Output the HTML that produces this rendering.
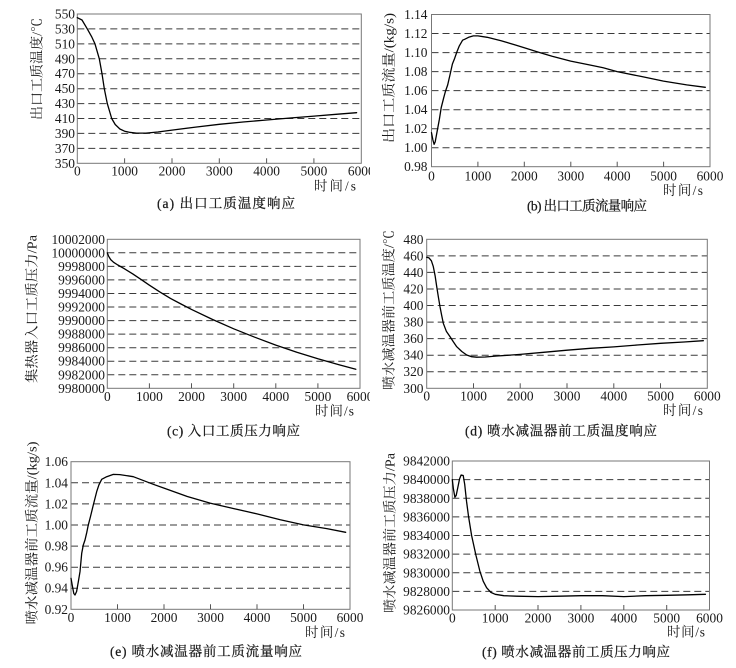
<!DOCTYPE html>
<html><head><meta charset="utf-8">
<style>
html,body{margin:0;padding:0;background:#fff;}
svg{display:block;}
text{font-family:"Liberation Serif","Noto Serif CJK SC",serif;fill:#1a1a1a;}
.t{font-size:13.4px;dominant-baseline:central;}
.yl{text-anchor:end;}
.xl{text-anchor:middle;}
.ti{font-size:13.5px;dominant-baseline:central;text-anchor:middle;}
.cap{font-size:13.5px;dominant-baseline:central;stroke:#1a1a1a;stroke-width:0.25;}
.g{stroke:#3a3a3a;stroke-width:1;stroke-dasharray:7,4;fill:none;}
.b{stroke:#777;stroke-width:1;fill:none;}
.k{stroke:#555;stroke-width:1;}
.c{stroke:#000;stroke-width:1.3;fill:none;stroke-linejoin:round;stroke-linecap:round;}
</style></head>
<body>
<svg width="736" height="668" viewBox="0 0 736 668" xmlns="http://www.w3.org/2000/svg">
<defs>
<clipPath id="lc"><rect x="0" y="0" width="370" height="668"/></clipPath>
</defs>

<!-- ================= Panel a ================= -->
<g clip-path="url(#lc)">
<g>
<line class="g" x1="77.3" y1="28.9" x2="361.3" y2="28.9"/>
<line class="g" x1="77.3" y1="43.9" x2="361.3" y2="43.9"/>
<line class="g" x1="77.3" y1="58.8" x2="361.3" y2="58.8"/>
<line class="g" x1="77.3" y1="73.7" x2="361.3" y2="73.7"/>
<line class="g" x1="77.3" y1="88.7" x2="361.3" y2="88.7"/>
<line class="g" x1="77.3" y1="103.6" x2="361.3" y2="103.6"/>
<line class="g" x1="77.3" y1="118.5" x2="361.3" y2="118.5"/>
<line class="g" x1="77.3" y1="133.4" x2="361.3" y2="133.4"/>
<line class="g" x1="77.3" y1="148.4" x2="361.3" y2="148.4"/>
<rect class="b" x="77.3" y="14" width="284" height="149.3"/>
<line class="k" x1="124.6" y1="163.3" x2="124.6" y2="158.3"/>
<line class="k" x1="172" y1="163.3" x2="172" y2="158.3"/>
<line class="k" x1="219.3" y1="163.3" x2="219.3" y2="158.3"/>
<line class="k" x1="266.6" y1="163.3" x2="266.6" y2="158.3"/>
<line class="k" x1="313.9" y1="163.3" x2="313.9" y2="158.3"/>
<polyline class="c" points="77.3,17.7 82,20 87.3,28.9 91.5,36.4 95,43.9 99.3,58.8 102,73.7 104.3,88.7 107.3,103.6 111.7,118.5 115.2,124.5 119.9,129 124.6,131.2 129.4,132.3 136.5,133.1 145.9,133.1 157.8,132 172,130.1 195.6,127.1 219.3,124.3 243,122 266.6,120 290.3,118 314,116.1 337.6,114.2 356.6,112.7"/>
<text class="t yl" x="75" y="14">550</text>
<text class="t yl" x="75" y="28.9">530</text>
<text class="t yl" x="75" y="43.9">510</text>
<text class="t yl" x="75" y="58.8">490</text>
<text class="t yl" x="75" y="73.7">470</text>
<text class="t yl" x="75" y="88.7">450</text>
<text class="t yl" x="75" y="103.6">430</text>
<text class="t yl" x="75" y="118.5">410</text>
<text class="t yl" x="75" y="133.4">390</text>
<text class="t yl" x="75" y="148.4">370</text>
<text class="t yl" x="75" y="163.3">350</text>
<text class="t xl" x="77.3" y="171">0</text>
<text class="t xl" x="124.6" y="171">1000</text>
<text class="t xl" x="172" y="171">2000</text>
<text class="t xl" x="219.3" y="171">3000</text>
<text class="t xl" x="266.6" y="171">4000</text>
<text class="t xl" x="313.9" y="171">5000</text>
<text class="t xl" x="361.3" y="171">6000</text>
<text class="ti" transform="translate(37,69) rotate(-90)" textLength="102" lengthAdjust="spacingAndGlyphs">出口工质温度/℃</text>
<text class="t" x="314" y="186" textLength="42" lengthAdjust="spacing">时间/s</text>
<text class="cap" x="157" y="203.3" textLength="138" lengthAdjust="spacing">(a) 出口工质温度响应</text>
</g>

<!-- ================= Panel c ================= -->
<g>
<line class="g" x1="107.3" y1="252.8" x2="360" y2="252.8"/>
<line class="g" x1="107.3" y1="266.4" x2="360" y2="266.4"/>
<line class="g" x1="107.3" y1="279.9" x2="360" y2="279.9"/>
<line class="g" x1="107.3" y1="293.5" x2="360" y2="293.5"/>
<line class="g" x1="107.3" y1="307" x2="360" y2="307"/>
<line class="g" x1="107.3" y1="320.6" x2="360" y2="320.6"/>
<line class="g" x1="107.3" y1="334.1" x2="360" y2="334.1"/>
<line class="g" x1="107.3" y1="347.7" x2="360" y2="347.7"/>
<line class="g" x1="107.3" y1="361.2" x2="360" y2="361.2"/>
<line class="g" x1="107.3" y1="374.8" x2="360" y2="374.8"/>
<rect class="b" x="107.3" y="239.3" width="252.7" height="149"/>
<line class="k" x1="149.4" y1="388.3" x2="149.4" y2="383.3"/>
<line class="k" x1="191.5" y1="388.3" x2="191.5" y2="383.3"/>
<line class="k" x1="233.7" y1="388.3" x2="233.7" y2="383.3"/>
<line class="k" x1="275.8" y1="388.3" x2="275.8" y2="383.3"/>
<line class="k" x1="317.9" y1="388.3" x2="317.9" y2="383.3"/>
<polyline class="c" points="107.3,252.8 108.6,256.2 110.7,259.6 113.6,262.3 117.8,265 124.1,268.6 132.6,273.8 141,279.4 149.4,285.2 160,292.1 170.5,298.4 181,304 191.5,309.4 212.6,319.5 233.7,328.8 254.7,337.2 275.8,345.1 296.8,352.2 317.9,358.8 339,364.8 355.8,369.3"/>
<text class="t yl" x="105" y="239.3">10002000</text>
<text class="t yl" x="105" y="252.8">10000000</text>
<text class="t yl" x="105" y="266.4">9998000</text>
<text class="t yl" x="105" y="279.9">9996000</text>
<text class="t yl" x="105" y="293.5">9994000</text>
<text class="t yl" x="105" y="307">9992000</text>
<text class="t yl" x="105" y="320.6">9990000</text>
<text class="t yl" x="105" y="334.1">9988000</text>
<text class="t yl" x="105" y="347.7">9986000</text>
<text class="t yl" x="105" y="361.2">9984000</text>
<text class="t yl" x="105" y="374.8">9982000</text>
<text class="t yl" x="105" y="388.3">9980000</text>
<text class="t xl" x="107.3" y="396.7">0</text>
<text class="t xl" x="149.4" y="396.7">1000</text>
<text class="t xl" x="191.5" y="396.7">2000</text>
<text class="t xl" x="233.7" y="396.7">3000</text>
<text class="t xl" x="275.8" y="396.7">4000</text>
<text class="t xl" x="317.9" y="396.7">5000</text>
<text class="t xl" x="360" y="396.7">6000</text>
<text class="ti" transform="translate(32,309) rotate(-90)" textLength="148" lengthAdjust="spacingAndGlyphs">集热器入口工质压力/Pa</text>
<text class="t" x="315" y="411" textLength="39" lengthAdjust="spacing">时间/s</text>
<text class="cap" x="167" y="431" textLength="133" lengthAdjust="spacing">(c) 入口工质压力响应</text>
</g>
</g>

<!-- ================= Panel b ================= -->
<g>
<line class="g" x1="431.5" y1="33.5" x2="710" y2="33.5"/>
<line class="g" x1="431.5" y1="52.6" x2="710" y2="52.6"/>
<line class="g" x1="431.5" y1="71.6" x2="710" y2="71.6"/>
<line class="g" x1="431.5" y1="90.6" x2="710" y2="90.6"/>
<line class="g" x1="431.5" y1="109.7" x2="710" y2="109.7"/>
<line class="g" x1="431.5" y1="128.7" x2="710" y2="128.7"/>
<line class="g" x1="431.5" y1="147.7" x2="710" y2="147.7"/>
<rect class="b" x="431.5" y="14.5" width="278.5" height="152.2"/>
<line class="k" x1="477.9" y1="166.7" x2="477.9" y2="161.7"/>
<line class="k" x1="524.3" y1="166.7" x2="524.3" y2="161.7"/>
<line class="k" x1="570.8" y1="166.7" x2="570.8" y2="161.7"/>
<line class="k" x1="617.2" y1="166.7" x2="617.2" y2="161.7"/>
<line class="k" x1="663.6" y1="166.7" x2="663.6" y2="161.7"/>
<polyline class="c" points="431.5,132.7 432.9,140 434.1,144.3 435.2,141.9 436.6,134.3 438,126.7 439.4,119.1 441.2,107.7 443.6,98.2 445.4,91.5 447.7,84.9 450.1,74.4 452.4,64 454.7,58.2 457,51.6 459.3,45.9 462.6,40.2 464.9,39.2 468.6,37.3 473.3,35.9 477.9,35.9 487.2,37.3 501.1,40.7 515,44.9 524.3,47.8 538.2,52.1 552.1,56.3 570.7,61.1 589.3,64.9 603.2,67.8 617.1,71.6 640.3,76.3 663.5,81.1 686.7,84.9 705.3,87.3"/>
<text class="t yl" x="427.5" y="14.5">1.14</text>
<text class="t yl" x="427.5" y="33.5">1.12</text>
<text class="t yl" x="427.5" y="52.6">1.10</text>
<text class="t yl" x="427.5" y="71.6">1.08</text>
<text class="t yl" x="427.5" y="90.6">1.06</text>
<text class="t yl" x="427.5" y="109.7">1.04</text>
<text class="t yl" x="427.5" y="128.7">1.02</text>
<text class="t yl" x="427.5" y="147.7">1.00</text>
<text class="t yl" x="427.5" y="166.7">0.98</text>
<text class="t xl" x="431.5" y="176">0</text>
<text class="t xl" x="477.9" y="176">1000</text>
<text class="t xl" x="524.3" y="176">2000</text>
<text class="t xl" x="570.8" y="176">3000</text>
<text class="t xl" x="617.2" y="176">4000</text>
<text class="t xl" x="663.6" y="176">5000</text>
<text class="t xl" x="710" y="176">6000</text>
<text class="ti" transform="translate(389,78) rotate(-90)" textLength="130" lengthAdjust="spacingAndGlyphs">出口工质流量/(kg/s)</text>
<text class="t" x="663" y="190.7" textLength="40" lengthAdjust="spacing">时间/s</text>
<text class="cap" x="527" y="206" textLength="120" lengthAdjust="spacing">(b) 出口工质流量响应</text>
</g>

<!-- ================= Panel d ================= -->
<g>
<line class="g" x1="426.7" y1="255.9" x2="707.3" y2="255.9"/>
<line class="g" x1="426.7" y1="272.4" x2="707.3" y2="272.4"/>
<line class="g" x1="426.7" y1="289" x2="707.3" y2="289"/>
<line class="g" x1="426.7" y1="305.5" x2="707.3" y2="305.5"/>
<line class="g" x1="426.7" y1="322.1" x2="707.3" y2="322.1"/>
<line class="g" x1="426.7" y1="338.6" x2="707.3" y2="338.6"/>
<line class="g" x1="426.7" y1="355.2" x2="707.3" y2="355.2"/>
<line class="g" x1="426.7" y1="371.7" x2="707.3" y2="371.7"/>
<rect class="b" x="426.7" y="239.3" width="280.6" height="149"/>
<line class="k" x1="473.5" y1="388.3" x2="473.5" y2="383.3"/>
<line class="k" x1="520.2" y1="388.3" x2="520.2" y2="383.3"/>
<line class="k" x1="567" y1="388.3" x2="567" y2="383.3"/>
<line class="k" x1="613.8" y1="388.3" x2="613.8" y2="383.3"/>
<line class="k" x1="660.5" y1="388.3" x2="660.5" y2="383.3"/>
<polyline class="c" points="426.7,257.3 429,257.9 431.4,260.8 433.3,266.6 435.1,275.7 436.7,286.5 438.4,297.2 440,306.7 441.7,315.5 443.3,323.3 446.3,331.2 450,336.6 453.4,341.9 456.7,346.7 461.8,351.5 466.7,355 471.6,356.7 476.7,357.2 485.2,357 496.9,356 520.2,354.4 543.6,352.3 567,350.2 590.4,348.3 613.8,346.9 637.2,345 660.6,343.3 684,342 703.3,340.7"/>
<text class="t yl" x="423.5" y="239.3">480</text>
<text class="t yl" x="423.5" y="255.9">460</text>
<text class="t yl" x="423.5" y="272.4">440</text>
<text class="t yl" x="423.5" y="289">420</text>
<text class="t yl" x="423.5" y="305.5">400</text>
<text class="t yl" x="423.5" y="322.1">380</text>
<text class="t yl" x="423.5" y="338.6">360</text>
<text class="t yl" x="423.5" y="355.2">340</text>
<text class="t yl" x="423.5" y="371.7">320</text>
<text class="t yl" x="423.5" y="388.3">300</text>
<text class="t xl" x="426.7" y="396">0</text>
<text class="t xl" x="473.5" y="396">1000</text>
<text class="t xl" x="520.2" y="396">2000</text>
<text class="t xl" x="567" y="396">3000</text>
<text class="t xl" x="613.8" y="396">4000</text>
<text class="t xl" x="660.5" y="396">5000</text>
<text class="t xl" x="707.3" y="396">6000</text>
<text class="ti" transform="translate(389,310) rotate(-90)" textLength="160" lengthAdjust="spacingAndGlyphs">喷水减温器前工质温度/℃</text>
<text class="t" x="663" y="410.7" textLength="40" lengthAdjust="spacing">时间/s</text>
<text class="cap" x="465" y="431" textLength="192" lengthAdjust="spacing">(d) 喷水减温器前工质温度响应</text>
</g>

<!-- ================= Panel e ================= -->
<g>
<line class="g" x1="71" y1="482.8" x2="350" y2="482.8"/>
<line class="g" x1="71" y1="503.9" x2="350" y2="503.9"/>
<line class="g" x1="71" y1="525" x2="350" y2="525"/>
<line class="g" x1="71" y1="546.1" x2="350" y2="546.1"/>
<line class="g" x1="71" y1="567.2" x2="350" y2="567.2"/>
<line class="g" x1="71" y1="588.2" x2="350" y2="588.2"/>
<rect class="b" x="71" y="461.7" width="279" height="147.6"/>
<line class="k" x1="117.5" y1="609.3" x2="117.5" y2="604.3"/>
<line class="k" x1="164" y1="609.3" x2="164" y2="604.3"/>
<line class="k" x1="210.5" y1="609.3" x2="210.5" y2="604.3"/>
<line class="k" x1="257" y1="609.3" x2="257" y2="604.3"/>
<line class="k" x1="303.5" y1="609.3" x2="303.5" y2="604.3"/>
<polyline class="c" points="71,578.3 72.4,586.1 73.8,593.5 75,595 76.6,591.5 78.3,581.9 80,571.7 81.7,553.4 83.3,545 85,540 86.8,532.3 88.3,524.9 90.5,516.5 93.3,505 96.7,491.6 98.9,484.9 101.7,479.3 106.7,476.7 113.3,474.4 119.8,474.6 133.3,476.7 153.3,484.3 164,488.1 187.3,496.5 210.5,503.2 233.8,508.6 247.7,511.8 257,513.9 280.3,519.7 303.5,524.9 326.8,528.6 345.7,532.3"/>
<text class="t yl" x="68" y="461.7">1.06</text>
<text class="t yl" x="68" y="482.8">1.04</text>
<text class="t yl" x="68" y="503.9">1.02</text>
<text class="t yl" x="68" y="525">1.00</text>
<text class="t yl" x="68" y="546.1">0.98</text>
<text class="t yl" x="68" y="567.2">0.96</text>
<text class="t yl" x="68" y="588.2">0.94</text>
<text class="t yl" x="68" y="609.3">0.92</text>
<text class="t xl" x="71" y="617.7">0</text>
<text class="t xl" x="117.5" y="617.7">1000</text>
<text class="t xl" x="164" y="617.7">2000</text>
<text class="t xl" x="210.5" y="617.7">3000</text>
<text class="t xl" x="257" y="617.7">4000</text>
<text class="t xl" x="303.5" y="617.7">5000</text>
<text class="t xl" x="350" y="617.7">6000</text>
<text class="ti" transform="translate(32,533) rotate(-90)" textLength="183" lengthAdjust="spacingAndGlyphs">喷水减温器前工质流量/(kg/s)</text>
<text class="t" x="305" y="632.7" textLength="40" lengthAdjust="spacing">时间/s</text>
<text class="cap" x="110" y="651.7" textLength="192" lengthAdjust="spacing">(e) 喷水减温器前工质流量响应</text>
</g>

<!-- ================= Panel f ================= -->
<g>
<line class="g" x1="452.3" y1="479.6" x2="709.5" y2="479.6"/>
<line class="g" x1="452.3" y1="498.3" x2="709.5" y2="498.3"/>
<line class="g" x1="452.3" y1="516.9" x2="709.5" y2="516.9"/>
<line class="g" x1="452.3" y1="535.5" x2="709.5" y2="535.5"/>
<line class="g" x1="452.3" y1="554.1" x2="709.5" y2="554.1"/>
<line class="g" x1="452.3" y1="572.8" x2="709.5" y2="572.8"/>
<line class="g" x1="452.3" y1="591.4" x2="709.5" y2="591.4"/>
<rect class="b" x="452.3" y="461" width="257.2" height="149"/>
<line class="k" x1="495.2" y1="610" x2="495.2" y2="605"/>
<line class="k" x1="538" y1="610" x2="538" y2="605"/>
<line class="k" x1="580.9" y1="610" x2="580.9" y2="605"/>
<line class="k" x1="623.8" y1="610" x2="623.8" y2="605"/>
<line class="k" x1="666.7" y1="610" x2="666.7" y2="605"/>
<polyline class="c" points="452.3,479.6 453.4,488.9 454.9,497.3 456.2,495.4 457.9,487.1 459.6,478.7 461.1,475 463.2,475.5 464.7,484.3 466.5,501.1 468.6,516.9 471.6,535.5 475.9,555.1 479.8,570.9 483.2,581.2 486.6,587.7 490.9,592.4 495.2,594.3 503.8,595.7 516.7,596.2 538.1,596.6 559.6,596.2 581,595.7 602.5,595.7 623.9,596.6 645.4,595.7 666.8,595.3 688.3,594.8 705.4,594.3"/>
<text class="t yl" x="450" y="461">9842000</text>
<text class="t yl" x="450" y="479.6">9840000</text>
<text class="t yl" x="450" y="498.3">9838000</text>
<text class="t yl" x="450" y="516.9">9836000</text>
<text class="t yl" x="450" y="535.5">9834000</text>
<text class="t yl" x="450" y="554.1">9832000</text>
<text class="t yl" x="450" y="572.8">9830000</text>
<text class="t yl" x="450" y="591.4">9828000</text>
<text class="t yl" x="450" y="610">9826000</text>
<text class="t xl" x="452.3" y="618">0</text>
<text class="t xl" x="495.2" y="618">1000</text>
<text class="t xl" x="538" y="618">2000</text>
<text class="t xl" x="580.9" y="618">3000</text>
<text class="t xl" x="623.8" y="618">4000</text>
<text class="t xl" x="666.7" y="618">5000</text>
<text class="t xl" x="709.5" y="618">6000</text>
<text class="ti" transform="translate(390,533) rotate(-90)" textLength="160" lengthAdjust="spacingAndGlyphs">喷水减温器前工质压力/Pa</text>
<text class="t" x="667" y="632" textLength="38" lengthAdjust="spacing">时间/s</text>
<text class="cap" x="482" y="652" textLength="188" lengthAdjust="spacing">(f) 喷水减温器前工质压力响应</text>
</g>
</svg>
</body></html>
